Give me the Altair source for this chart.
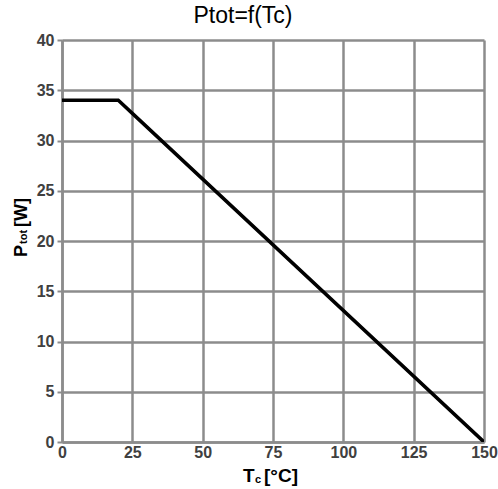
import altair as alt
import pandas as pd

tc = [0, 20, 25, 150]
ptot = [34, 34, 32.7, 0]
x_ticks = [0, 25, 50, 75, 100, 125, 150]
y_ticks = [0, 5, 10, 15, 20, 25, 30, 35, 40]

df = pd.DataFrame({"tc": tc, "ptot": ptot})

GRID = "#8c8c8c"
FONT = "Liberation Sans"

line = alt.Chart(df).mark_line(color="black", strokeWidth=3.5, clip=True).encode(
    x=alt.X("tc:Q", scale=alt.Scale(domain=[0, 150], nice=False),
            axis=alt.Axis(values=x_ticks, title=None, ticks=False, labelPadding=2,
                          labelFlush=False)),
    y=alt.Y("ptot:Q", scale=alt.Scale(domain=[0, 40], nice=False),
            axis=alt.Axis(values=y_ticks, title=None, tickColor=GRID, tickWidth=2,
                          tickSize=5, labelPadding=3)),
)

def txt(s, x, y, size, angle=0, align="left", baseline="alphabetic"):
    kw = dict(text=s, font=FONT, fontSize=size, fontWeight="bold", color="black",
              align=align, baseline=baseline)
    if angle:
        kw["angle"] = angle
    return alt.Chart(pd.DataFrame({"a": [0]})).mark_text(**kw).encode(
        x=alt.value(x), y=alt.value(y))

ox, oy = 62, 40
xt = [
    txt("T", 243 - ox, 482 - oy, 19),
    txt("c", 255 - ox, 483 - oy, 11),
    txt("[°C]", 264 - ox, 482 - oy, 19),
]
yt = [
    txt("P", 27 - ox, 257 - oy, 18, angle=270),
    txt("tot", 27 - ox, 244 - oy, 11, angle=270),
    txt("[W]", 27 - ox, 227 - oy, 18, angle=270),
]

chart = alt.layer(line, *xt, *yt).properties(
    width=422, height=402,
    title=alt.TitleParams("Ptot=f(Tc)", anchor="middle", offset=4, dx=-30),
    padding={"left": 62, "top": 40, "right": 14, "bottom": 47},
    autosize=alt.AutoSizeParams(type="none"),
).configure_view(stroke=None).configure_axis(
    grid=True, gridColor=GRID, gridWidth=2.5, gridOpacity=1,
    domainColor=GRID, domainWidth=2.5,
    labelFont=FONT, labelFontSize=16, labelFontWeight="bold", labelColor="#404040",
).configure_title(font=FONT, fontSize=23, fontWeight="normal", color="black")

chart.save("out.html", embed_options={"renderer": "svg", "actions": False})
